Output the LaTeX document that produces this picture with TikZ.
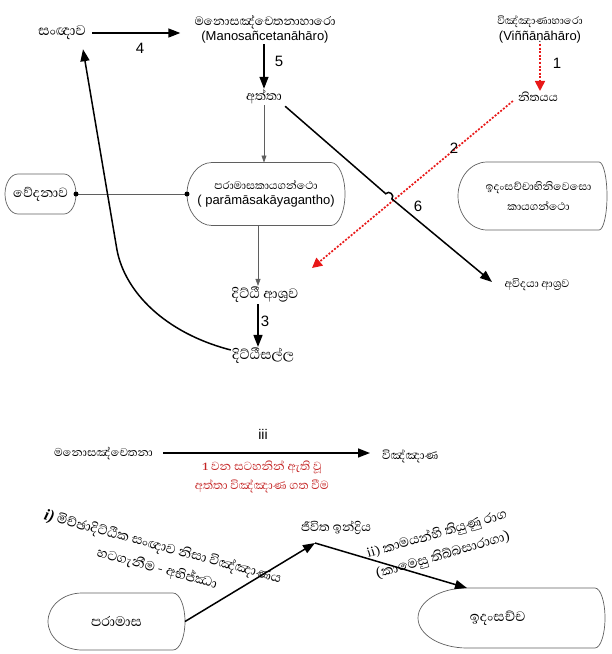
\documentclass[tikz,border=0pt]{standalone}
\usepackage{fontspec}
\setmainfont{Liberation Sans}
\newfontfamily\sinhalafont[Script=Sinhala]{Abhaya Libre}
\newfontfamily\romanfont{Liberation Serif}
\usetikzlibrary{arrows.meta,calc}

\definecolor{dashred}{RGB}{232,24,24}
\definecolor{notered}{RGB}{196,36,36}
\definecolor{boxgray}{RGB}{95,95,95}

\newcommand\sisize[1]{\sinhalafont\fontsize{#1}{#1}\selectfont}

% outline with flat top and bottom and rounded ends, built on a node's frame
\newcommand\pillshape[3]{%
  \draw[boxline] ($(#1.north west)+(#2,0)$) -- ($(#1.north east)+(-#3,0)$)
    .. controls ($(#1.north east)+(-0.448*#3,0)$) and ($(#1.east)!0.552!(#1.north east)$) .. (#1.east)
    .. controls ($(#1.east)!0.552!(#1.south east)$) and ($(#1.south east)+(-0.448*#3,0)$) .. ($(#1.south east)+(-#3,0)$)
    -- ($(#1.south west)+(#2,0)$)
    .. controls ($(#1.south west)+(0.448*#2,0)$) and ($(#1.west)!0.552!(#1.south west)$) .. (#1.west)
    .. controls ($(#1.west)!0.552!(#1.north west)$) and ($(#1.north west)+(0.448*#2,0)$) .. cycle;}

\tikzset{
  si/.style={font=\sisize{16.5}, inner sep=1pt},
  la/.style={font=\fontsize{13}{15}\selectfont, inner sep=1pt},
  num/.style={font=\fontsize{15}{17}\selectfont, inner sep=1pt},
  frame/.style={inner sep=0pt, outer sep=0pt},
  heavy/.style={line width=1.5pt, -{Triangle[length=12pt,width=9pt]}},
  light/.style={line width=0.6pt, draw=boxgray, -{Triangle[length=7pt,width=5pt]}},
  plain/.style={line width=0.6pt, draw=boxgray},
  reddash/.style={line width=1.7pt, draw=dashred, dash pattern=on 2pt off 1.6pt,
    -{Triangle[length=10pt,width=10pt,fill=dashred]}},
  boxline/.style={draw=boxgray, line width=0.7pt},
  pin/.style={circle, fill=black, inner sep=0pt, minimum size=5pt}
}

\begin{document}
\begin{tikzpicture}[x=1pt, y=-1pt]
\useasboundingbox (0,0) rectangle (612,654);

% ---------- upper part ----------
\node[si, font=\sisize{18}] (sanna) at (62,33) {සංඥාව};
\node[la, align=center] (mano) at (265,29)
  {{\sisize{15.5}මනොසඤ්චෙතනාහාරො}\\[0pt](Manosañcetanāhāro)};
\node[si] (atta) at (264,97) {අත්තා};
\node[la, align=center] (vinnA) at (540,29)
  {{\sisize{13.5}විඤ්ඤාණාහාරො}\\[1pt](Viññāṇāhāro)};
\node[si, font=\sisize{15}] (nitya) at (538,97) {නිතයය};

\node[frame, minimum width=158pt, minimum height=63pt] (pg) at (266,194) {};
\pillshape{pg}{25}{14}
\node[la, align=center] (pgtext) at (pg.center)
  {{\sisize{14}පරාමාසකායගන්ථො}\\( parāmāsakāyagantho)};

\node[frame, minimum width=71pt, minimum height=40pt] (ved) at (40.5,194) {};
\pillshape{ved}{13}{12}
\node[si, font=\sisize{17}] (vedtext) at (ved.center) {වේදනාව};

\node[frame, minimum width=149pt, minimum height=68pt] (ida) at (532.5,196) {};
\pillshape{ida}{29}{8}
\node[si, font=\sisize{14}, align=center] (idatext) at ($(ida.center)+(6,0)$)
  {ඉදංසච්චාභිනිවෙසො\\[6pt]කායගන්ථො};

\node[si, font=\sisize{17.5}] (ditthi) at (265,295) {දිට්ඨී ආශ්^^^^200dරව};
\node[si, font=\sisize{17.5}] (salla) at (263,356) {දිට්ඨීසල්ල};
\node[si, font=\sisize{14}] (avidya) at (537,285) {අවිදයා ආශ්^^^^200dරව};

% connectors
\draw[heavy, shorten <=5pt, shorten >=13pt] (sanna.east) -- (sanna.east -| mano.west);
\node[num] (n4) at (140,48) {4};
\draw[heavy] (mano.south -| atta) -- (atta.north);
\node[num] (n5) at (279,61) {5};
\draw[reddash] (vinnA.south -| nitya.north) ++(2,0) coordinate (r1s) -- (r1s |- nitya.north);
\node[num] (n1) at (557,63) {1};

\draw[light] (atta.south) -- (atta.south |- pg.north);
\draw[light] (pg.south -| ditthi.north) ++(-7,0) coordinate (l2s) -- (l2s |- ditthi.north);
\draw[heavy] (ditthi.south) ++(-7,0) coordinate (a3s) -- (a3s |- salla.north);
\node[num] (n3) at (265,321) {3};

% link between the two frames
\draw[plain] (ved.east) -- (pg.west);
\node[pin] (pinL) at (ved.east) {};
\node[pin] (pinR) at (pg.west) {};

% red path 2 and black path 6 with a hop where they cross
\draw[reddash] (nitya.west) ++(-4,4) coordinate (r2s) -- (312,268) coordinate (r2e);
\node[num] (n2) at (454,148) {2};
\coordinate (hopA) at (385.7,193.7);
\coordinate (hopB) at (391.9,198.9);
\draw[heavy] (atta.south east) ++(2,1) coordinate (a6s) -- (hopA)
  .. controls (388.9,189.9) and (395.1,195.1) .. (hopB) -- (492,282) coordinate (a6e);
\node[num] (n6) at (418,206) {6};

% return curve from the lower node back to the first one
\draw[heavy] (salla.west) ++(0,-6) coordinate (cs)
  .. controls (165,333) and (125,292) .. (117,250) -- ($(sanna.south)+(21,8)$);

% ---------- lower part ----------
\node[si, font=\sisize{14.5}, anchor=east] (manoc) at (154,453) {මනොසඤ්චෙතනා};
\node[si, font=\sisize{15}, anchor=west] (vinnB) at (381,456) {විඤ්ඤාණ};
\draw[heavy] (manoc.east) ++(9,0) coordinate (bs) -- ($(vinnB.west)+(-11,-3)$);
\node[num, font=\fontsize{14}{16}\selectfont] (niii) at (263,434) {iii};
\node[si, font=\sisize{15}, align=center, text=notered] (note) at (262,477)
  {{\fontsize{14}{14}\selectfont\bfseries 1} වන සටහනින් ඇති වූ\\[4pt]අත්තා විඤ්ඤාණ ගත වීම};

\node[si, font=\sisize{16}] (jivita) at (336,528) {ජීවිත ඉන්ද්^^^^200dරිය};
\coordinate (junc) at (315,543);

\node[frame, minimum width=137pt, minimum height=57pt] (param) at (116.5,621.5) {};
\pillshape{param}{34}{12}
\node[si, font=\sisize{17.5}] (paramtext) at (param.center) {පරාමාස};

\node[frame, minimum width=187pt, minimum height=60pt] (ida2) at (511.5,618) {};
\pillshape{ida2}{49}{10}
\node[si, font=\sisize{17.5}] (ida2text) at ($(ida2.center)+(-14,0)$) {ඉදංසච්ච};

\draw[heavy] (param.east) -- (junc);
\draw[heavy] (junc) -- ($(ida2.north west)+(49,0)$);

\node[si, font=\sisize{17}, align=center, rotate=-15] (capi) at (160,558)
  {{\romanfont\fontsize{16}{16}\selectfont\bfseries\itshape i)} මිච්ඡාදිට්ඨික සංඥාව නිසා විඤ්ඤාණය\\[5pt]හටගැනීම - අභිජ්ඣා};
\node[si, font=\sisize{17}, align=center, rotate=16] (capii) at (440,545)
  {{\fontsize{15}{15}\selectfont ii)} කාමයන්හි තියුණු රාග\\[5pt](කාමෙසු තිබ්බසාරාගා)};
\end{tikzpicture}
\end{document}
